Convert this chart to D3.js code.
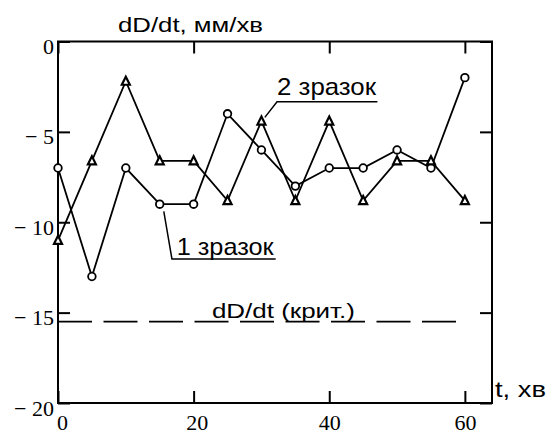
<!DOCTYPE html>
<html>
<head>
<meta charset="utf-8">
<script src="https://cdn.jsdelivr.net/npm/d3@7"></script>
<style>
  body { margin: 0; background: #fff; }
  .tick line { stroke: #000; stroke-width: 2; }
  .lbl { font-family: "Liberation Sans", Arial, sans-serif; fill: #000; }
</style>
</head>
<body>
<svg id="chart" width="552" height="434"></svg>
<script>
// time, minutes
const times = [0, 5, 10, 15, 20, 25, 30, 35, 40, 45, 50, 55, 60];
// sample 1 (circles)
const sample1 = [-7, -13, -7, -9, -9, -4, -6, -8, -7, -7, -6, -7, -2];
// sample 2 (triangles)
const sample2 = [-11, -6.6, -2.2, -6.6, -6.6, -8.8, -4.4, -8.8, -4.4, -8.8, -6.6, -6.6, -8.8];
// critical rate
const critValue = -15.5;
const critSpan = [0, 59];
const xTicks = [0, 20, 40, 60];
const yTicks = [0, -5, -10, -15, -20];

let svg = d3.select("#chart");
let margin = { top: 41.5, right: 60, bottom: 31, left: 58 };
const width = +svg.attr("width");
const height = +svg.attr("height");

const x = d3.scaleLinear().domain([0, 64]).range([margin.left, width - margin.right]);
const y = d3.scaleLinear().domain([-20, 0]).range([height - margin.bottom, margin.top]);

const fmtY = d => d === 0 ? "0" : "\u2212 " + Math.abs(d);
const serif = "'Times New Roman', 'Liberation Serif', serif";

// axes with inward ticks
const axLeft = svg.append("g").attr("transform", "translate(" + x(0) + ",0)")
    .call(d3.axisLeft(y).tickValues(yTicks).tickSizeInner(-12).tickSizeOuter(0).tickPadding(4).tickFormat(fmtY));
axLeft.selectAll("text").attr("dy", "0.55em");

svg.append("g").attr("transform", "translate(" + x(64) + ",0)")
    .call(d3.axisRight(y).tickValues(yTicks).tickSizeInner(-12).tickSizeOuter(0).tickFormat(""));

const axBottom = svg.append("g").attr("transform", "translate(0," + y(-20) + ")")
    .call(d3.axisBottom(x).tickValues(xTicks).tickSizeInner(-12).tickSizeOuter(0).tickPadding(11).tickFormat(d3.format("d")));

svg.append("g").attr("transform", "translate(0," + y(0) + ")")
    .call(d3.axisTop(x).tickValues(xTicks).tickSizeInner(-12).tickSizeOuter(0).tickFormat(""));

[axLeft, axBottom].forEach(g => {
  g.attr("font-family", null).attr("font-size", null);
  g.selectAll("text")
      .style("font-family", serif)
      .style("font-size", "22px")
      .attr("fill", "#000");
});
axBottom.selectAll("text").attr("dx", d => d === 0 ? 4 : (d === 20 ? 3 : 0));

svg.selectAll(".domain").remove();

// frame
svg.append("rect")
    .attr("x", x(0)).attr("y", y(0))
    .attr("width", x(64) - x(0)).attr("height", y(-20) - y(0))
    .attr("fill", "none").attr("stroke", "#000").attr("stroke-width", 2);

// critical line
svg.append("line")
    .attr("x1", x(critSpan[0])).attr("x2", x(critSpan[1]))
    .attr("y1", y(critValue)).attr("y2", y(critValue))
    .attr("stroke", "#000").attr("stroke-width", 1.6)
    .attr("stroke-dasharray", "34,11.5");

const line = d3.line().x(d => x(d[0])).y(d => y(d[1]));
const s1 = times.map((t, i) => [t, sample1[i]]);
const s2 = times.map((t, i) => [t, sample2[i]]);

svg.append("path").datum(s1).attr("d", line)
    .attr("fill", "none").attr("stroke", "#000").attr("stroke-width", 1.8);
svg.append("path").datum(s2).attr("d", line)
    .attr("fill", "none").attr("stroke", "#000").attr("stroke-width", 1.8);

svg.selectAll(".m1").data(s1).enter().append("circle")
    .attr("class", "m1")
    .attr("cx", d => x(d[0])).attr("cy", d => y(d[1]))
    .attr("r", 3.8)
    .attr("fill", "#fff").attr("stroke", "#000").attr("stroke-width", 1.8);

svg.selectAll(".m2").data(s2).enter().append("path")
    .attr("class", "m2")
    .attr("transform", d => "translate(" + x(d[0]) + "," + y(d[1]) + ")")
    .attr("d", "M0,-4.5L4,3.5L-4,3.5Z")
    .attr("fill", "#fff").attr("stroke", "#000").attr("stroke-width", 2.2);

// annotations
function leader(pts) {
  svg.append("path").datum(pts).attr("d", line)
      .attr("fill", "none").attr("stroke", "#000").attr("stroke-width", 1.5);
}
leader([[15.6, -9.4], [16.8, -12.03], [32.1, -12.03]]);
leader([[30.5, -4.2], [32.3, -3.33], [47.1, -3.33]]);

svg.append("text").attr("class", "lbl")
    .attr("x", x(17.5)).attr("y", y(-11.8))
    .attr("font-size", 24).attr("textLength", 97).attr("lengthAdjust", "spacingAndGlyphs")
    .text("1 зразок");
svg.append("text").attr("class", "lbl")
    .attr("x", x(32.3)).attr("y", y(-2.96))
    .attr("font-size", 24).attr("textLength", 99).attr("lengthAdjust", "spacingAndGlyphs")
    .text("2 зразок");
svg.append("text").attr("class", "lbl")
    .attr("x", x(22.7)).attr("y", y(-15.3))
    .attr("font-size", 21).attr("textLength", 143).attr("lengthAdjust", "spacingAndGlyphs")
    .text("dD/dt (крит.)");

svg.append("text").attr("class", "lbl")
    .attr("x", 118).attr("y", 31.5)
    .attr("font-size", 21).attr("textLength", 145).attr("lengthAdjust", "spacingAndGlyphs")
    .text("dD/dt, мм/хв");
svg.append("text").attr("class", "lbl")
    .attr("x", 495).attr("y", 396.5)
    .attr("font-size", 22).attr("textLength", 51).attr("lengthAdjust", "spacingAndGlyphs")
    .text("t, хв");
</script>
</body>
</html>
